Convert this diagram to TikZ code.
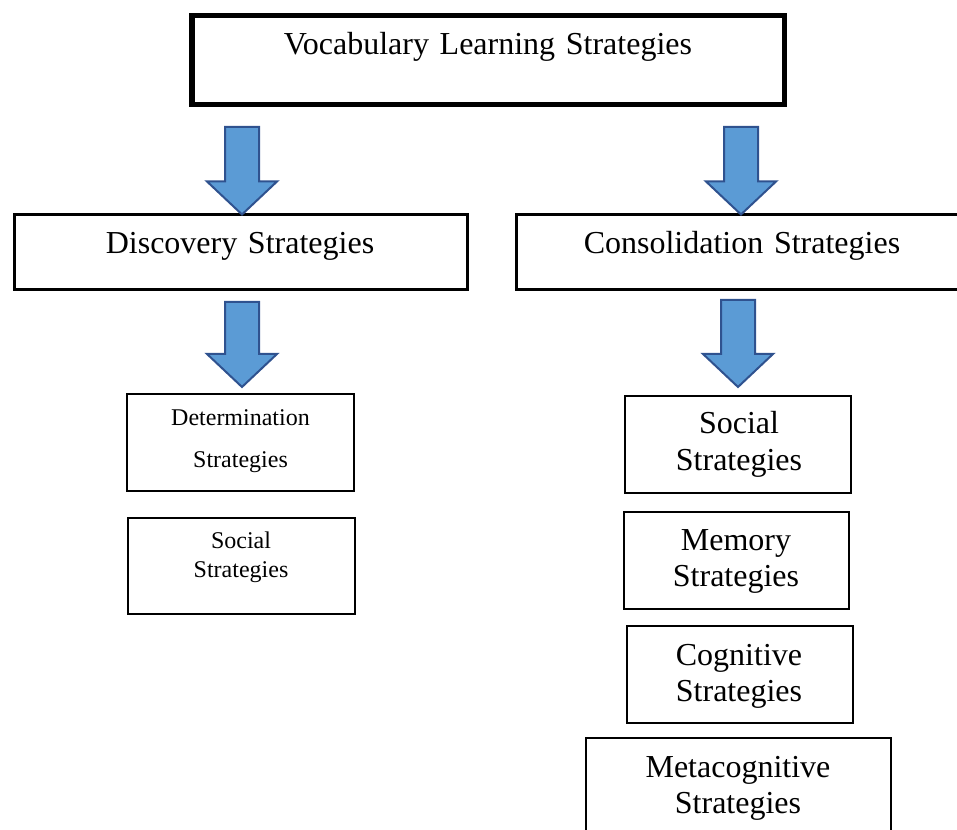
\documentclass[tikz,border=0pt]{standalone}
\usepackage{fontspec}
\setmainfont{Liberation Serif}
\usetikzlibrary{calc,fit}

\tikzset{every picture/.style={line width=0.75pt}}
\tikzset{
  stratbox/.style={draw, inner sep=0pt, outer sep=0pt, line width=1.5pt},
  headbox/.style={stratbox, line width=2.25pt},
  titlebox/.style={stratbox, line width=4pt},
  bigtext/.style={anchor=base, inner sep=0pt, text width=420pt, align=center, font=\fontsize{24}{27.5}\selectfont},
  smalltext/.style={anchor=base, inner sep=0pt, text width=200pt, align=center, font=\fontsize{18}{21.75}\selectfont},
  downarrow/.style={draw={rgb, 255:red, 47; green, 82; blue, 143}, fill={rgb, 255:red, 91; green, 155; blue, 213}, line width=1.5pt, line join=miter,
    to path={($(\tikztostart)+(-17,0)$) -- ($(\tikztostart)+(17,0)$) -- ($(\tikztotarget)+(17,-33)$) -- ($(\tikztotarget)+(35,-33)$) -- (\tikztotarget) -- ($(\tikztotarget)+(-35,-33)$) -- ($(\tikztotarget)+(-17,-33)$) -- cycle}}
}

\begin{document}
\begin{tikzpicture}[x=0.75pt,y=0.75pt,yscale=-1,xscale=1]
\useasboundingbox (0,0) rectangle (957,830);
\clip (0,0) rectangle (957,830);

%Shape: Rectangle [top]
\node [titlebox, fit={(192,15.5) (784.5,104.5)}] (vls) {};
%Shape: Rectangle [second row]
\node [headbox, fit={(14.5,214.5) (467,289.5)}] (disc) {};
\node [headbox, fit={(516,214.5) (970,289.5)}] (cons) {};
%Shape: Rectangle [discovery side]
\node [stratbox, fit={(127,394) (354,491)}] (det) {};
\node [stratbox, fit={(128,518) (355,614)}] (dsoc) {};
%Shape: Rectangle [consolidation side]
\node [stratbox, fit={(625,396) (851,493)}] (csoc) {};
\node [stratbox, fit={(624,512) (849,609)}] (mem) {};
\node [stratbox, fit={(627,626) (853,723)}] (cog) {};
\node [stratbox, fit={(586,738) (891,850)}] (meta) {};

%Down Arrows
\coordinate (a1) at (242,127);
\draw [downarrow] (a1) to (disc.north -| a1);
\coordinate (a2) at (741,127);
\draw [downarrow] (a2) to (cons.north -| a2);
\coordinate (a3) at (242,302);
\coordinate (t3) at ($(det.north -| a3)+(0,-7)$);
\draw [downarrow] (a3) to (t3);
\coordinate (a4) at (738,300);
\coordinate (t4) at ($(csoc.north -| a4)+(0,-9)$);
\draw [downarrow] (a4) to (t4);

% Text Node
\node [bigtext] (vlsText) at (488,55) {Vocabulary Learning Strategies};
% Text Node
\node [bigtext] (discText) at (240,254) {Discovery Strategies};
% Text Node
\node [bigtext] (consText) at (742,254) {Consolidation Strategies};
% Text Node
\node [smalltext, font=\fontsize{18}{31.5}\selectfont] (detText) at (240.5,426) {Determination\\Strategies};
% Text Node
\node [smalltext] (dsocText) at (241,548) {Social\\Strategies};
% Text Node
\node [bigtext] (csocText) at (739,434) {Social\\Strategies};
% Text Node
\node [bigtext] (memText) at (736,550) {Memory\\Strategies};
% Text Node
\node [bigtext] (cogText) at (739,665) {Cognitive\\Strategies};
% Text Node
\node [bigtext] (metaText) at (738,777) {Metacognitive\\Strategies};

\end{tikzpicture}
\end{document}
